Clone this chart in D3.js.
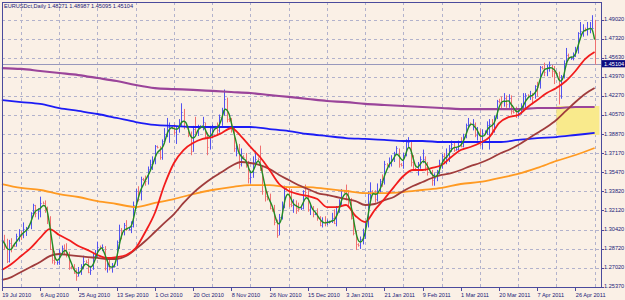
<!DOCTYPE html>
<html><head><meta charset="utf-8">
<script src="https://cdn.jsdelivr.net/npm/d3@7/dist/d3.min.js"></script>
<style>html,body{margin:0;padding:0;background:#faf0e6;}svg{display:block}</style>
</head><body><svg id="c" width="625" height="300"></svg>
<script>
// ---------------- DATA ----------------
const chartTitle = "EURUSDct,Daily";
const lastOHLC = [1.48271, 1.48987, 1.45095, 1.45104];
const currentPrice = 1.45104;

const dateLabels = ["19 Jul 2010","6 Aug 2010","25 Aug 2010","13 Sep 2010","1 Oct 2010","20 Oct 2010","8 Nov 2010","26 Nov 2010","15 Dec 2010","3 Jan 2011","21 Jan 2011","9 Feb 2011","1 Mar 2011","20 Mar 2011","7 Apr 2011","26 Apr 2011"];
const dateLabelBars = [0,16,32,48,64,80,96,112,128,144,160,176,192,208,224,240];
const gridBars = [8,24,40,56,72,88,104,120,136,152,168,184,200,216,232,248];

const priceTicks = [1.4902,1.4732,1.4563,1.4397,1.4227,1.4057,1.3887,1.3717,1.3547,1.3382,1.3212,1.3042,1.2872,1.2702,1.2537];
const priceTickLabels = ["1.49020","1.47320","1.45630","1.43970","1.42270","1.40570","1.38870","1.37170","1.35470","1.33820","1.32120","1.30420","1.28720","1.27020","1.25370"];

const firstOpen = 1.2935;
const closes = [1.2945,1.2910,1.2760,1.2920,1.2905,1.2900,1.2985,1.3000,1.2990,1.3050,1.3050,1.3060,1.3185,1.3255,1.3185,1.3210,1.3280,1.3275,1.3220,1.3150,
1.2870,1.2775,1.2750,1.2755,1.2840,1.2875,1.2860,1.2835,1.2710,1.2700,1.2660,1.2630,1.2660,1.2720,1.2760,1.2755,1.2665,1.2685,1.2810,1.2830,
1.2890,1.2885,1.2890,1.2700,1.2720,1.2700,1.2710,1.2720,1.2930,1.3040,1.3000,1.3080,1.3050,1.3050,1.3070,1.3260,1.3380,1.3310,1.3490,1.3485,
1.3470,1.3580,1.3620,1.3630,1.3780,1.3770,1.3680,1.3830,1.3890,1.3950,1.3950,1.3945,1.3910,1.3930,1.3970,1.4080,1.3960,1.3955,1.3880,1.3740,
1.3930,1.3910,1.3950,1.3955,1.3990,1.3870,1.3770,1.3940,1.3940,1.3945,1.3920,1.4040,1.4100,1.4200,1.4020,1.4010,1.3930,1.3760,1.3780,1.3620,
1.3690,1.3685,1.3610,1.3500,1.3510,1.3640,1.3670,1.3665,1.3580,1.3380,1.3340,1.3330,1.3230,1.3220,1.3110,1.2990,1.3150,1.3240,1.3410,1.3405,
1.3270,1.3260,1.3270,1.3230,1.3220,1.3230,1.3380,1.3370,1.3220,1.3240,1.3180,1.3185,1.3140,1.3080,1.3110,1.3100,1.3110,1.3110,1.3140,1.3100,
1.3240,1.3280,1.3380,1.3375,1.3350,1.3310,1.3140,1.3010,1.2910,1.2905,1.2960,1.2970,1.3080,1.3360,1.3380,1.3370,1.3310,1.3380,1.3470,1.3460,
1.3620,1.3615,1.3630,1.3670,1.3720,1.3760,1.3620,1.3615,1.3700,1.3820,1.3820,1.3640,1.3580,1.3575,1.3610,1.3670,1.3670,1.3600,1.3550,1.3550,
1.3480,1.3500,1.3550,1.3630,1.3690,1.3680,1.3680,1.3760,1.3800,1.3750,1.3755,1.3820,1.3780,1.3860,1.3970,1.3980,1.3975,1.3980,1.3880,1.3910,
1.3800,1.3900,1.3905,1.3970,1.3980,1.3930,1.4030,1.4180,1.4175,1.4160,1.4210,1.4150,1.4210,1.4090,1.4085,1.4080,1.4090,1.4140,1.4160,1.4230,
1.4225,1.4230,1.4220,1.4310,1.4300,1.4480,1.4475,1.4440,1.4480,1.4500,1.4450,1.4430,1.4425,1.4230,1.4400,1.4520,1.4590,1.4560,1.4560,1.4580,
1.4630,1.4780,1.4800,1.4810,1.4805,1.4830,1.4830,1.4830,1.45104];
const highs = [1.2985,1.2995,1.2960,1.2950,1.2965,1.2915,1.3005,1.3045,1.3030,1.3105,1.3065,1.3075,1.3195,1.3270,1.3260,1.3230,1.3333,1.3290,1.3300,1.3245,
1.3160,1.2900,1.2850,1.2765,1.2865,1.2900,1.2910,1.2920,1.2845,1.2720,1.2735,1.2690,1.2710,1.2735,1.2810,1.2770,1.2785,1.2720,1.2835,1.2860,
1.2935,1.2900,1.2910,1.2895,1.2770,1.2780,1.2745,1.2735,1.2945,1.3085,1.3055,1.3100,1.3125,1.3065,1.3115,1.3290,1.3400,1.3425,1.3510,1.3500,
1.3520,1.3600,1.3660,1.3690,1.3790,1.3785,1.3780,1.3840,1.3940,1.4030,1.3990,1.3960,1.3975,1.3950,1.4020,1.4160,1.4110,1.3970,1.3960,1.3910,
1.3960,1.4040,1.3970,1.3965,1.4040,1.3990,1.3900,1.3960,1.3970,1.3960,1.3990,1.4060,1.4120,1.4282,1.4210,1.4030,1.4030,1.3950,1.3800,1.3800,
1.3760,1.3700,1.3720,1.3650,1.3560,1.3690,1.3740,1.3680,1.3785,1.3600,1.3400,1.3380,1.3360,1.3240,1.3260,1.3130,1.3180,1.3290,1.3430,1.3420,
1.3420,1.3400,1.3310,1.3300,1.3280,1.3245,1.3390,1.3440,1.3390,1.3270,1.3250,1.3200,1.3230,1.3160,1.3150,1.3160,1.3130,1.3120,1.3190,1.3220,
1.3250,1.3310,1.3400,1.3390,1.3440,1.3390,1.3320,1.3150,1.3030,1.2920,1.2980,1.3050,1.3110,1.3380,1.3460,1.3390,1.3390,1.3450,1.3490,1.3530,
1.3650,1.3630,1.3680,1.3700,1.3730,1.3780,1.3760,1.3630,1.3720,1.3840,1.3860,1.3830,1.3700,1.3590,1.3640,1.3690,1.3750,1.3690,1.3640,1.3560,
1.3570,1.3540,1.3570,1.3660,1.3710,1.3720,1.3760,1.3790,1.3830,1.3820,1.3770,1.3830,1.3860,1.3890,1.3980,1.4030,1.3990,1.4020,1.3990,1.3950,
1.3930,1.3930,1.3920,1.4000,1.4020,1.4020,1.4050,1.4190,1.4200,1.4220,1.4250,1.4230,1.4240,1.4230,1.4100,1.4130,1.4120,1.4160,1.4250,1.4250,
1.4240,1.4270,1.4250,1.4320,1.4350,1.4490,1.4490,1.4520,1.4500,1.4530,1.4500,1.4490,1.4440,1.4440,1.4410,1.4540,1.4650,1.4600,1.4575,1.4610,
1.4660,1.4790,1.4880,1.4860,1.4830,1.4880,1.4880,1.4940,1.48987];
const lows = [1.2880,1.2860,1.2745,1.2750,1.2840,1.2890,1.2890,1.2935,1.2950,1.2965,1.2985,1.3045,1.3045,1.3160,1.3150,1.3130,1.3150,1.3265,1.3190,1.3090,
1.2860,1.2740,1.2730,1.2730,1.2730,1.2815,1.2825,1.2795,1.2685,1.2690,1.2650,1.2588,1.2625,1.2640,1.2690,1.2745,1.2655,1.2640,1.2685,1.2785,
1.2800,1.2870,1.2850,1.2680,1.2660,1.2680,1.2660,1.2705,1.2720,1.2870,1.2955,1.2990,1.3030,1.3035,1.3010,1.3060,1.3250,1.3290,1.3300,1.3470,
1.3430,1.3440,1.3560,1.3570,1.3620,1.3760,1.3660,1.3660,1.3800,1.3860,1.3810,1.3930,1.3880,1.3800,1.3900,1.3960,1.3930,1.3940,1.3860,1.3700,
1.3730,1.3890,1.3870,1.3940,1.3920,1.3850,1.3700,1.3750,1.3850,1.3930,1.3870,1.3900,1.3960,1.4050,1.3990,1.3995,1.3900,1.3730,1.3690,1.3580,
1.3600,1.3670,1.3590,1.3450,1.3450,1.3500,1.3620,1.3650,1.3560,1.3350,1.3290,1.3300,1.3220,1.3200,1.3080,1.2969,1.2990,1.3130,1.3230,1.3390,
1.3240,1.3240,1.3190,1.3180,1.3200,1.3215,1.3220,1.3330,1.3200,1.3170,1.3150,1.3170,1.3120,1.3070,1.3060,1.3070,1.3080,1.3095,1.3100,1.3090,
1.3070,1.3190,1.3260,1.3365,1.3300,1.3250,1.3130,1.2990,1.2860,1.2890,1.2870,1.2910,1.2960,1.3060,1.3310,1.3350,1.3280,1.3290,1.3370,1.3420,
1.3440,1.3600,1.3590,1.3600,1.3640,1.3700,1.3590,1.3600,1.3580,1.3690,1.3770,1.3600,1.3560,1.3560,1.3520,1.3580,1.3630,1.3560,1.3520,1.3535,
1.3430,1.3430,1.3470,1.3530,1.3580,1.3620,1.3620,1.3640,1.3730,1.3730,1.3740,1.3740,1.3770,1.3770,1.3850,1.3940,1.3965,1.3920,1.3860,1.3830,
1.3780,1.3750,1.3890,1.3880,1.3750,1.3880,1.3900,1.4020,1.4160,1.4110,1.4130,1.4120,1.4120,1.4060,1.4070,1.4030,1.4040,1.4060,1.4110,1.4100,
1.4215,1.4190,1.4150,1.4200,1.4220,1.4290,1.4460,1.4400,1.4400,1.4440,1.4390,1.4330,1.4410,1.4150,1.4200,1.4380,1.4510,1.4540,1.4545,1.4540,
1.4570,1.4600,1.4760,1.4750,1.4795,1.4760,1.4780,1.4820,1.45095];

// Moving averages (one value every maStepFast / maStepSlow bars)
const maStepFast = 4, maStepSlow = 8;
const maRed = [1.2683,1.2737,1.2807,1.2878,1.2967,1.3046,1.2993,1.2949,1.2896,1.2860,1.2816,1.2790,1.2798,1.2816,1.2878,1.3020,
1.3188,1.3436,1.3631,1.3746,1.3808,1.3844,1.3861,1.3897,1.3941,1.3870,1.3773,1.3684,1.3569,1.3445,1.3383,1.3356,
1.3339,1.3312,1.3241,1.3241,1.3259,1.3162,1.3108,1.3215,1.3312,1.3418,1.3516,1.3569,1.3569,1.3587,1.3613,1.3684,
1.3746,1.3773,1.3808,1.3861,1.3985,1.4038,1.4056,1.4127,1.4189,1.4251,1.4295,1.4357,1.4446,1.4552,1.4614];
const maBrown = [1.2595,1.2621,1.2666,1.2710,1.2754,1.2807,1.2825,1.2816,1.2807,1.2798,1.2790,1.2781,1.2781,1.2807,1.2869,1.2940,
1.3020,1.3100,1.3179,1.3277,1.3365,1.3436,1.3498,1.3551,1.3604,1.3640,1.3631,1.3613,1.3578,1.3525,1.3480,1.3436,
1.3401,1.3365,1.3348,1.3330,1.3312,1.3294,1.3259,1.3268,1.3303,1.3330,1.3383,1.3427,1.3463,1.3498,1.3525,1.3542,
1.3569,1.3604,1.3631,1.3666,1.3711,1.3746,1.3790,1.3844,1.3897,1.3950,1.4012,1.4092,1.4171,1.4242,1.4295];
const maOrange = [1.3445,1.3410,1.3392,1.3356,1.3330,1.3294,1.3268,1.3241,1.3277,1.3312,1.3356,1.3392,1.3418,1.3436,1.3436,1.3418,
1.3418,1.3401,1.3383,1.3365,1.3365,1.3374,1.3392,1.3410,1.3445,1.3463,1.3498,1.3534,1.3587,1.3649,1.3702,1.3764];
const maBlue = [1.4189,1.4171,1.4154,1.4118,1.4092,1.4065,1.4030,1.3994,1.3968,1.3959,1.3950,1.3950,1.3950,1.3950,1.3932,1.3914,
1.3888,1.3870,1.3852,1.3844,1.3835,1.3826,1.3826,1.3817,1.3817,1.3817,1.3817,1.3835,1.3852,1.3861,1.3879,1.3897];
const maPurple = [1.4472,1.4464,1.4446,1.4428,1.4410,1.4384,1.4357,1.4322,1.4295,1.4286,1.4278,1.4269,1.4260,1.4251,1.4233,1.4216,
1.4198,1.4180,1.4171,1.4154,1.4145,1.4136,1.4127,1.4118,1.4109,1.4109,1.4109,1.4109,1.4118,1.4118,1.4127,1.4127];
const fastPeriod = 3; // green line: short moving average of closes

const zoneBars = [232, 250];
const zonePrices = [1.4136, 1.3879];

// ---------------- DRAW ----------------
const svg = d3.select("#c");
const W = 625, H = 300;
const plot = {l: 2, r: 602, t: 2, b: 288};
const x = d3.scaleLinear().domain([0, 248]).range([1.9, 594.6]);
const y = d3.scaleLinear().domain([1.2524, 1.5057]).range([plot.b, plot.t]);
const px = v => Math.round(v) + 0.5;

svg.append("rect").attr("width", W).attr("height", H).attr("fill", "#faf0e6");

const gridCol = "#b2b2cc";
const g = svg.append("g");
g.selectAll("line.h").data(priceTicks).join("line")
  .attr("x1", plot.l).attr("x2", plot.r)
  .attr("y1", d => px(y(d))).attr("y2", d => px(y(d)))
  .attr("stroke", gridCol).attr("stroke-width", 1).attr("stroke-dasharray", "3,3");
g.selectAll("line.v").data(gridBars).join("line")
  .attr("y1", plot.t).attr("y2", plot.b)
  .attr("x1", d => px(x(d))).attr("x2", d => px(x(d)))
  .attr("stroke", gridCol).attr("stroke-width", 1).attr("stroke-dasharray", "3,3");

// zone rectangle
svg.append("rect")
  .attr("x", x(zoneBars[0])).attr("width", x(zoneBars[1]) - x(zoneBars[0]))
  .attr("y", y(zonePrices[0])).attr("height", y(zonePrices[1]) - y(zonePrices[0]))
  .attr("fill", "#f9ea8c");

// bid line
svg.append("line").attr("x1", plot.l).attr("x2", plot.r)
  .attr("y1", px(y(currentPrice))).attr("y2", px(y(currentPrice)))
  .attr("stroke", "#9898bc").attr("stroke-width", 1);

// bars
const bars = closes.map((c, i) => ({i, c, h: highs[i], l: lows[i], o: i === 0 ? firstOpen : closes[i - 1]}));
const upCol = "#5252f0", dnCol = "#f07070";
const bg = svg.append("g");
bg.selectAll("line.bar").data(bars).join("line")
  .attr("x1", d => px(x(d.i))).attr("x2", d => px(x(d.i)))
  .attr("y1", d => y(d.h)).attr("y2", d => y(d.l))
  .attr("stroke", d => d.c >= d.o ? upCol : dnCol).attr("stroke-width", 1);
bg.selectAll("line.cl").data(bars).join("line")
  .attr("x1", d => px(x(d.i))).attr("x2", d => px(x(d.i)) + 1)
  .attr("y1", d => px(y(d.c))).attr("y2", d => px(y(d.c)))
  .attr("stroke", d => d.c >= d.o ? upCol : dnCol).attr("stroke-width", 1);

// moving averages
function drawMA(vals, step, color, width) {
  const line = d3.line().x((d, k) => x(k * step)).y(d => y(d)).curve(d3.curveMonotoneX);
  svg.append("path").attr("d", line(vals)).attr("fill", "none")
    .attr("stroke", color).attr("stroke-width", width).attr("stroke-linejoin", "round");
}
drawMA(maPurple, maStepSlow, "#9a449a", 2.2);
drawMA(maBlue, maStepSlow, "#1c1cf5", 1.8);
drawMA(maOrange, maStepSlow, "#ff9a22", 1.8);
drawMA(maBrown, maStepFast, "#a03c3c", 1.8);
drawMA(maRed, maStepFast, "#f21c1c", 1.8);

const fast = closes.map((c, i) => d3.mean(closes.slice(Math.max(0, i - fastPeriod + 1), i + 1)));
svg.append("path")
  .attr("d", d3.line().x((d, i) => x(i)).y(d => y(d)).curve(d3.curveBasis)(fast))
  .attr("fill", "none").attr("stroke", "#238c23").attr("stroke-width", 1.4);

// frame
const frameCol = "#4a4a9c";
svg.append("rect").attr("x", plot.l + 0.5).attr("y", plot.t + 0.5)
  .attr("width", plot.r - plot.l - 1).attr("height", plot.b - plot.t - 1)
  .attr("fill", "none").attr("stroke", frameCol).attr("stroke-width", 1);

const font = "'Liberation Sans', Arial, sans-serif";
const txtCol = "#202078";

// right axis
const ra = svg.append("g");
ra.selectAll("line").data(priceTicks).join("line")
  .attr("x1", plot.r).attr("x2", plot.r + 2)
  .attr("y1", d => px(y(d))).attr("y2", d => px(y(d)))
  .attr("stroke", frameCol);
ra.selectAll("text").data(priceTicks).join("text")
  .attr("x", 604).attr("y", d => y(d) + 1.5)
  .attr("font-family", font).attr("font-size", 5.6).attr("fill", txtCol)
  .text((d, i) => priceTickLabels[i]);

// current price box
const cy = y(currentPrice);
svg.append("rect").attr("x", 602).attr("y", cy - 3.6).attr("width", 23).attr("height", 7.2).attr("fill", "#0a0a80");
svg.append("text").attr("x", 604).attr("y", cy + 2).attr("font-family", font)
  .attr("font-size", 5.6).attr("fill", "#ffffff").text(currentPrice.toFixed(5));

// bottom axis
const ba = svg.append("g");
ba.selectAll("line").data(dateLabelBars).join("line")
  .attr("x1", d => px(x(d))).attr("x2", d => px(x(d)))
  .attr("y1", plot.b).attr("y2", plot.b + 3).attr("stroke", frameCol);
ba.selectAll("text").data(dateLabelBars).join("text")
  .attr("x", d => x(d) + 0.3).attr("y", 296.5)
  .attr("font-family", font).attr("font-size", 5.6).attr("fill", txtCol)
  .text((d, i) => dateLabels[i]);

// title
svg.append("text").attr("x", 4).attr("y", 7.6).attr("font-family", font)
  .attr("font-size", 5.6).attr("fill", txtCol)
  .text(chartTitle + "  " + lastOHLC.map(v => v.toFixed(5)).join(" "));
</script>
</body></html>
